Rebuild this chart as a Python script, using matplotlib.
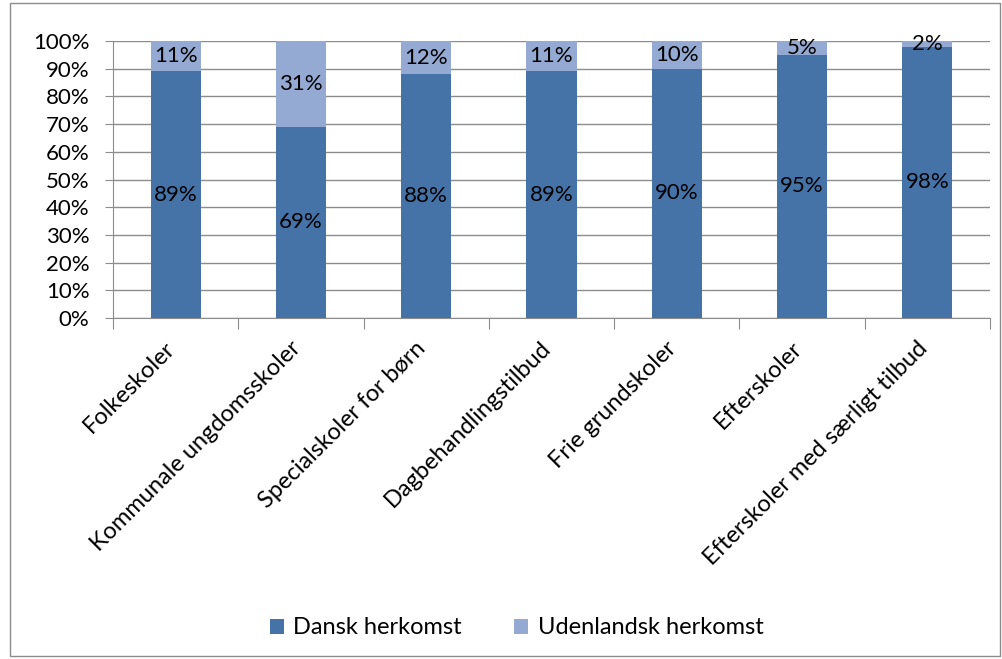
import numpy as np
import matplotlib.pyplot as plt
from matplotlib.patches import Rectangle

plt.rcParams['font.family'] = ['Lato', 'DejaVu Sans']

categories = ['Folkeskoler', 'Kommunale ungdomsskoler', 'Specialskoler for børn',
              'Dagbehandlingstilbud', 'Frie grundskoler', 'Efterskoler',
              'Efterskoler med særligt tilbud']
dansk = [89, 69, 88, 89, 90, 95, 98]
udenlandsk = [11, 31, 12, 11, 10, 5, 2]

dark = '#4572A7'
light = '#94AAD2'

fig = plt.figure(figsize=(10.03, 6.59), dpi=100)
ax = fig.add_axes([113 / 1003, 1 - 318 / 659, (990 - 113) / 1003, (318 - 41) / 659])

x = np.arange(len(categories))
d = np.array(dansk) / 100
u = np.array(udenlandsk) / 100
ax.bar(x, d, width=0.4, color=dark, label='Dansk herkomst', zorder=3)
ax.bar(x, u, width=0.4, bottom=d, color=light, label='Udenlandsk herkomst', zorder=3)

for i in range(len(x)):
    ax.text(x[i], d[i] / 2, f'{dansk[i]}%', ha='center', va='center', fontsize=16, zorder=4)
    ax.text(x[i], d[i] + u[i] / 2, f'{udenlandsk[i]}%', ha='center', va='center', fontsize=16, zorder=4)

ax.set_xlim(-0.5, len(categories) - 0.5)
ax.set_ylim(0, 1)
ax.set_yticks(np.arange(0, 1.01, 0.1))
ax.set_yticklabels([f'{int(round(v * 100))}%' for v in np.arange(0, 1.01, 0.1)], fontsize=16)
ax.yaxis.grid(True, color='#8C8C8C', linewidth=1, zorder=0)
ax.tick_params(axis='y', length=6, color='#8C8C8C', pad=11)

ax.set_xticks(np.arange(-0.5, len(categories), 1))
ax.set_xticklabels([])
ax.tick_params(axis='x', length=8, color='#8C8C8C')
for i, c in enumerate(categories):
    ax.annotate(c, xy=(x[i], 0), xycoords=('data', 'axes fraction'),
                xytext=(-8, -14), textcoords='offset points',
                rotation=45, ha='right', va='top', rotation_mode='anchor', fontsize=17)

for s in ['top', 'right']:
    ax.spines[s].set_visible(False)
ax.spines['left'].set_color('#8C8C8C')
ax.spines['bottom'].set_color('#8C8C8C')

fig.legend(loc='center', bbox_to_anchor=(0.515, 1 - 628 / 659), ncol=2, frameon=False,
           fontsize=17, handlelength=0.6, handleheight=0.6, columnspacing=2.2, handletextpad=0.4)

fig.patches.append(Rectangle((10 / 1003, 0.005), 990 / 1003, 0.99, transform=fig.transFigure,
                             fill=False, edgecolor='#8C8C8C', linewidth=1))

fig.savefig('out.png', dpi=100)
